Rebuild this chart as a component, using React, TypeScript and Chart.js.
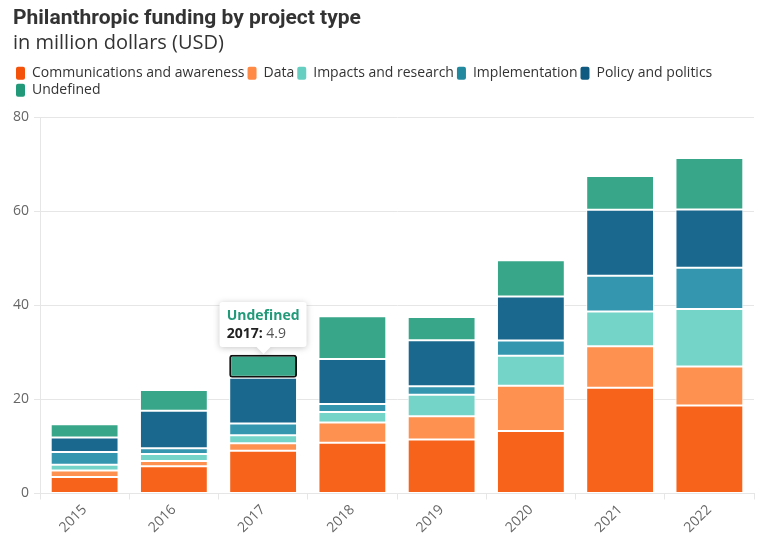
import React, { useEffect, useRef } from "react";
import { Chart, registerables } from "chart.js";

Chart.register(...registerables);

const years = ["2015", "2016", "2017", "2018", "2019", "2020", "2021", "2022"];
const communications = [3.5, 5.8, 9.1, 10.8, 11.5, 13.3, 22.5, 18.7];
const dataSeries = [1.4, 1.1, 1.6, 4.3, 4.9, 9.6, 8.8, 8.3];
const impacts = [1.2, 1.5, 1.7, 2.2, 4.6, 6.4, 7.4, 12.2];
const implementation = [2.7, 1.2, 2.5, 1.7, 1.8, 3.2, 7.6, 8.8];
const policy = [3.1, 8.0, 9.7, 9.6, 9.8, 9.4, 14.0, 12.4];
const undefinedSeries = [2.8, 4.4, 4.9, 9.1, 4.9, 7.7, 7.2, 10.9];

const seriesNames = [
  "Communications and awareness",
  "Data",
  "Impacts and research",
  "Implementation",
  "Policy and politics",
  "Undefined",
];
const fillColors = ["#f7631b", "#fe914f", "#74d4c8", "#3596b0", "#1a688e", "#38a688"];
const legendColors = ["#f4520a", "#ff8a45", "#66cfc1", "#22899f", "#0f5a80", "#229a7a"];
const yTicks = [0, 20, 40, 60, 80];

const FONT = "'Open Sans', sans-serif";

const legendSpacer = {
  id: "legendSpacer",
  beforeInit(chart: any) {
    const legend = chart.legend;
    if (!legend) return;
    const origFit = legend.fit;
    legend.fit = function () {
      origFit.call(this);
      this.height += 10;
    };
  },
};

export default function App() {
  const canvasRef = useRef<HTMLCanvasElement | null>(null);
  const tipRef = useRef<HTMLDivElement | null>(null);

  useEffect(() => {
    const values = [communications, dataSeries, impacts, implementation, policy, undefinedSeries];
    const chart = new Chart(canvasRef.current as HTMLCanvasElement, {
      type: "bar",
      data: {
        labels: years,
        datasets: values.map((v, i) => ({
          label: seriesNames[i],
          data: v,
          backgroundColor: fillColors[i],
          borderColor: "#ffffff",
          borderWidth: 1,
          borderSkipped: false,
          hoverBackgroundColor: fillColors[i],
          hoverBorderColor: "#111111",
          hoverBorderWidth: 2,
          hoverBorderRadius: 3,
          barPercentage: 0.95,
          categoryPercentage: 0.8,
        })),
      },
      plugins: [legendSpacer],
      options: {
        responsive: false,
        animation: false,
        events: [],
        layout: { padding: { left: 13, right: 14, bottom: 20, top: 4 } },
        scales: {
          x: {
            stacked: true,
            grid: { drawOnChartArea: false, drawTicks: true, tickLength: 6, color: "#e6e6e6" },
            border: { color: "#e6e6e6" },
            ticks: {
              color: "#666666",
              font: { family: FONT, size: 14 },
              maxRotation: 45,
              minRotation: 45,
              padding: 2,
            },
          },
          y: {
            stacked: true,
            min: 0,
            max: 80,
            afterBuildTicks: (axis: any) => {
              axis.ticks = yTicks.map((v) => ({ value: v }));
            },
            afterFit: (axis: any) => {
              axis.width = 27;
            },
            grid: { color: "#e6e6e6", tickLength: 6 },
            border: { color: "#e6e6e6" },
            ticks: { color: "#666666", font: { family: FONT, size: 14 }, padding: 5 },
          },
        },
        plugins: {
          title: {
            display: true,
            text: "Philanthropic funding by project type",
            align: "start",
            color: "#333333",
            font: { family: "Roboto, sans-serif", size: 21, weight: "bold" },
            padding: { top: 2, bottom: 0 },
          },
          subtitle: {
            display: true,
            text: "in million dollars (USD)",
            align: "start",
            color: "#333333",
            font: { family: FONT, size: 20, weight: "normal" },
            padding: { top: 0, bottom: 8 },
          },
          legend: {
            display: true,
            align: "start",
            labels: {
              color: "#333333",
              font: { family: FONT, size: 14 },
              boxWidth: 9,
              boxHeight: 13,
              useBorderRadius: true,
              borderRadius: 2,
              padding: 3,
              generateLabels: (c: any) =>
                c.data.datasets.map((ds: any, i: number) => ({
                  text: ds.label,
                  fillStyle: legendColors[i],
                  strokeStyle: legendColors[i],
                  lineWidth: 0,
                  fontColor: "#333333",
                  datasetIndex: i,
                  hidden: false,
                  borderRadius: 2,
                })),
            },
          },
          tooltip: {
            enabled: false,
            position: "average",
            external: (ctx: any) => {
              const el = tipRef.current;
              if (!el) return;
              const t = ctx.tooltip;
              if (t.opacity === 0 || !t.dataPoints || !t.dataPoints.length) {
                el.style.opacity = "0";
                return;
              }
              const dp = t.dataPoints[0];
              const titleEl = el.querySelector(".tt-title") as HTMLElement;
              const yearEl = el.querySelector(".tt-year") as HTMLElement;
              const valEl = el.querySelector(".tt-val") as HTMLElement;
              titleEl.textContent = dp.dataset.label;
              titleEl.style.color = legendColors[dp.datasetIndex];
              yearEl.textContent = dp.label + ":";
              valEl.textContent = " " + dp.formattedValue;
              el.style.opacity = "1";
              el.style.left = t.caretX + "px";
              el.style.top = t.caretY - 1 + "px";
            },
          },
        },
      },
    } as any);

    const active = [{ datasetIndex: 5, index: 2 }];
    const bar: any = chart.getDatasetMeta(5).data[2];
    chart.setActiveElements(active);
    chart.tooltip?.setActiveElements(active, { x: bar.x, y: bar.y });
    chart.update();

    return () => chart.destroy();
  }, []);

  return (
    <div style={{ position: "fixed", left: 0, top: 0, width: 768, height: 558, background: "#fff" }}>
      <canvas ref={canvasRef} width={768} height={558} style={{ display: "block" }} />
      <div
        ref={tipRef}
        style={{
          position: "absolute",
          opacity: 0,
          transform: "translate(-50%, -100%)",
          filter: "drop-shadow(0 1px 3px rgba(0,0,0,0.22))",
          pointerEvents: "none",
          fontFamily: FONT,
        }}
      >
        <div
          style={{
            background: "#fff",
            borderRadius: 3,
            padding: "4px 7px 5px 7px",
            whiteSpace: "nowrap",
            lineHeight: "18px",
          }}
        >
          <div className="tt-title" style={{ fontWeight: 700, fontSize: 14 }} />
          <div style={{ fontSize: 14 }}>
            <span className="tt-year" style={{ fontWeight: 700, color: "#222" }} />
            <span className="tt-val" style={{ color: "#555" }} />
          </div>
        </div>
        <div
          style={{
            width: 0,
            height: 0,
            margin: "0 auto",
            borderLeft: "7px solid transparent",
            borderRight: "7px solid transparent",
            borderTop: "7px solid #fff",
          }}
        />
      </div>
    </div>
  );
}
